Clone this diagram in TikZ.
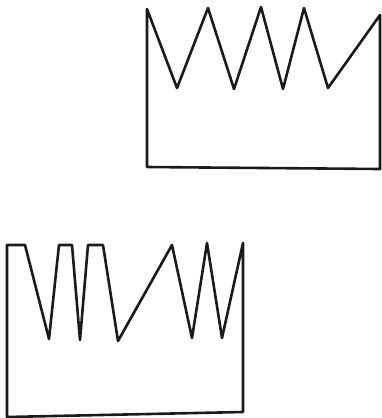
\documentclass[tikz,border=0pt]{standalone}
\usepackage{tikz}
\definecolor{cink}{HTML}{1A1A1A}
\def\picW{382}
\def\picH{418}

\begin{document}
\begin{tikzpicture}[x=1pt, y=-1pt, line cap=round, line join=round,
                    outline/.style={cink, line width=2.6pt}]

% fixed frame, same size as the reference
\useasboundingbox (0,0) rectangle (\picW,\picH);

% =================== upper box: regular saw-tooth top ===================
\draw[outline]
  (147,9) -- (177,88) -- (208,8) -- (234,89) -- (261,7)
  -- (283,89) -- (304,8) -- (328,88) -- (380,15)
  -- (380,169) -- (147,167) -- cycle;

% =================== lower box: flat-topped, irregular teeth ===================
\draw[outline]
  (7,245) -- (25,245) -- (49,339) -- (59,245) -- (72,245)
  -- (80,340) -- (88,245) -- (103,245) -- (118,341)
  -- (172,245) -- (192,338) -- (207,243) -- (222,338)
  -- (243,243) -- (243,412) -- (7,417) -- cycle;

\end{tikzpicture}
\end{document}
